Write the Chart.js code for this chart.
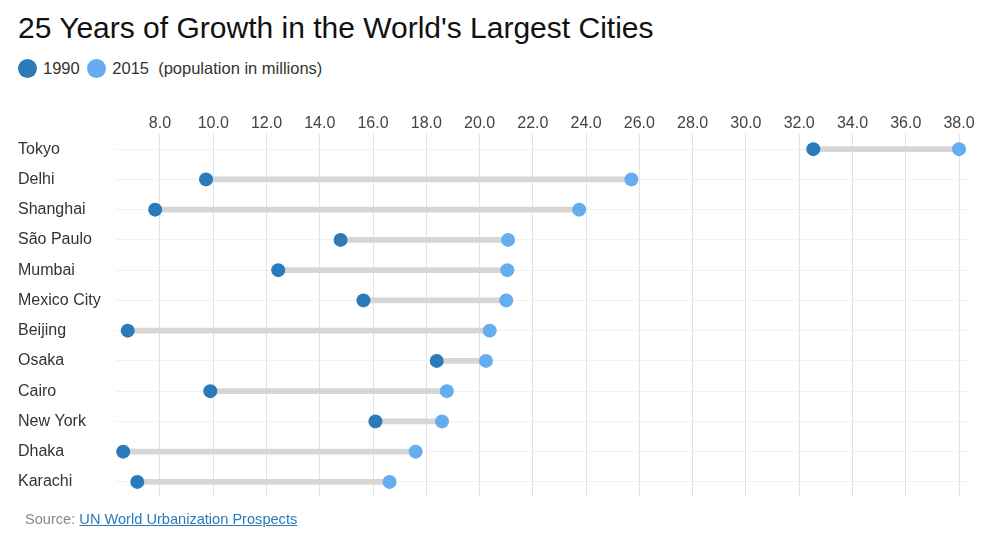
<!DOCTYPE html>
<html>
<head>
<meta charset="utf-8">
<script src="https://cdn.jsdelivr.net/npm/chart.js@4"></script>
<style>
    body { margin: 0; background: #fff; font-family: "Liberation Sans", Arial, sans-serif; }
    #wrap { position: relative; width: 985px; height: 555px; }
    #titulo { position: absolute; left: 18px; top: 11px; font-size: 30px; color: #111; }
    #leyenda { position: absolute; left: 18px; top: 59px; font-size: 16.5px; color: #333; }
    #leyenda .punto { display: inline-block; width: 19px; height: 19px; border-radius: 50%; vertical-align: -4px; margin-right: 6px; }
    #fuente { position: absolute; left: 25px; top: 511px; font-size: 14.6px; color: #888; }
    #fuente a { color: #2a7ab9; }
    canvas { position: absolute; left: 0; top: 0; }
</style>
</head>
<body>
<div id="wrap">
    <div id="titulo">25 Years of Growth in the World's Largest Cities</div>
    <div id="leyenda">
        <span class="punto" style="background:#2b7bba"></span>1990
        <span class="punto" style="background:#66adf0; margin-left:3px"></span>2015&nbsp; (population in millions)
    </div>
    <canvas id="canvasGrafica" width="985" height="555"></canvas>
    <div id="fuente">Source: <a href="#">UN World Urbanization Prospects</a></div>
</div>
<script>
var ciudades = ["Tokyo", "Delhi", "Shanghai", "São Paulo", "Mumbai", "Mexico City", "Beijing", "Osaka", "Cairo", "New York", "Dhaka", "Karachi"];
var pob1990 = [32.53, 9.73, 7.82, 14.78, 12.44, 15.64, 6.79, 18.39, 9.89, 16.09, 6.62, 7.15];
var pob2015 = [38.0, 25.7, 23.74, 21.07, 21.04, 21.0, 20.38, 20.24, 18.77, 18.59, 17.6, 16.62];
var ticksX = [8, 10, 12, 14, 16, 18, 20, 22, 24, 26, 28, 30, 32, 34, 36, 38];

document.addEventListener("DOMContentLoaded", function () {
    var canvasGrafica = document.getElementById("canvasGrafica");

    var rangos = [];
    var puntos1990 = [];
    var puntos2015 = [];
    for (let i = 0; i < ciudades.length; i++) {
        rangos.push([pob1990[i], pob2015[i]]);
        puntos1990.push({ x: pob1990[i], y: ciudades[i] });
        puntos2015.push({ x: pob2015[i], y: ciudades[i] });
    }

    new Chart(canvasGrafica, {
        type: 'bar',
        data: {
            labels: ciudades,
            datasets: [
                {
                    type: 'line',
                    label: '1990',
                    data: puntos1990,
                    showLine: false,
                    pointRadius: 7,
                    pointHoverRadius: 7,
                    pointBackgroundColor: '#2b7bba',
                    pointBorderWidth: 0,
                    order: 0
                },
                {
                    type: 'line',
                    label: '2015',
                    data: puntos2015,
                    showLine: false,
                    pointRadius: 7,
                    pointHoverRadius: 7,
                    pointBackgroundColor: '#66adf0',
                    pointBorderWidth: 0,
                    order: 0
                },
                {
                    label: 'cambio',
                    data: rangos,
                    backgroundColor: '#d6d6d6',
                    barThickness: 5,
                    borderSkipped: false,
                    order: 1
                }
            ]
        },
        options: {
            indexAxis: 'y',
            responsive: false,
            animation: false,
            layout: { padding: { left: 18, right: 18, top: 100, bottom: 58 } },
            plugins: {
                legend: { display: false },
                tooltip: { enabled: false }
            },
            scales: {
                x: {
                    position: 'top',
                    min: 6.35,
                    max: 38.3,
                    afterBuildTicks: function (scale) {
                        scale.ticks = ticksX.map(function (v) { return { value: v }; });
                    },
                    afterFit: function (scale) { scale.height = 34; },
                    grid: { color: '#e2e2e2', drawTicks: false },
                    border: { display: false },
                    ticks: {
                        padding: 1,
                        color: '#444',
                        font: { family: 'Liberation Sans', size: 16 },
                        callback: function (v) { return Number(v).toFixed(1); }
                    }
                },
                y: {
                    type: 'category',
                    afterFit: function (scale) { scale.width = 98; },
                    grid: { color: '#f0f0f0', offset: false, drawTicks: false },
                    border: { display: false },
                    ticks: {
                        crossAlign: 'far',
                        padding: 0,
                        color: '#333',
                        font: { family: 'Liberation Sans', size: 16 }
                    }
                }
            }
        }
    });
});
</script>
</body>
</html>
